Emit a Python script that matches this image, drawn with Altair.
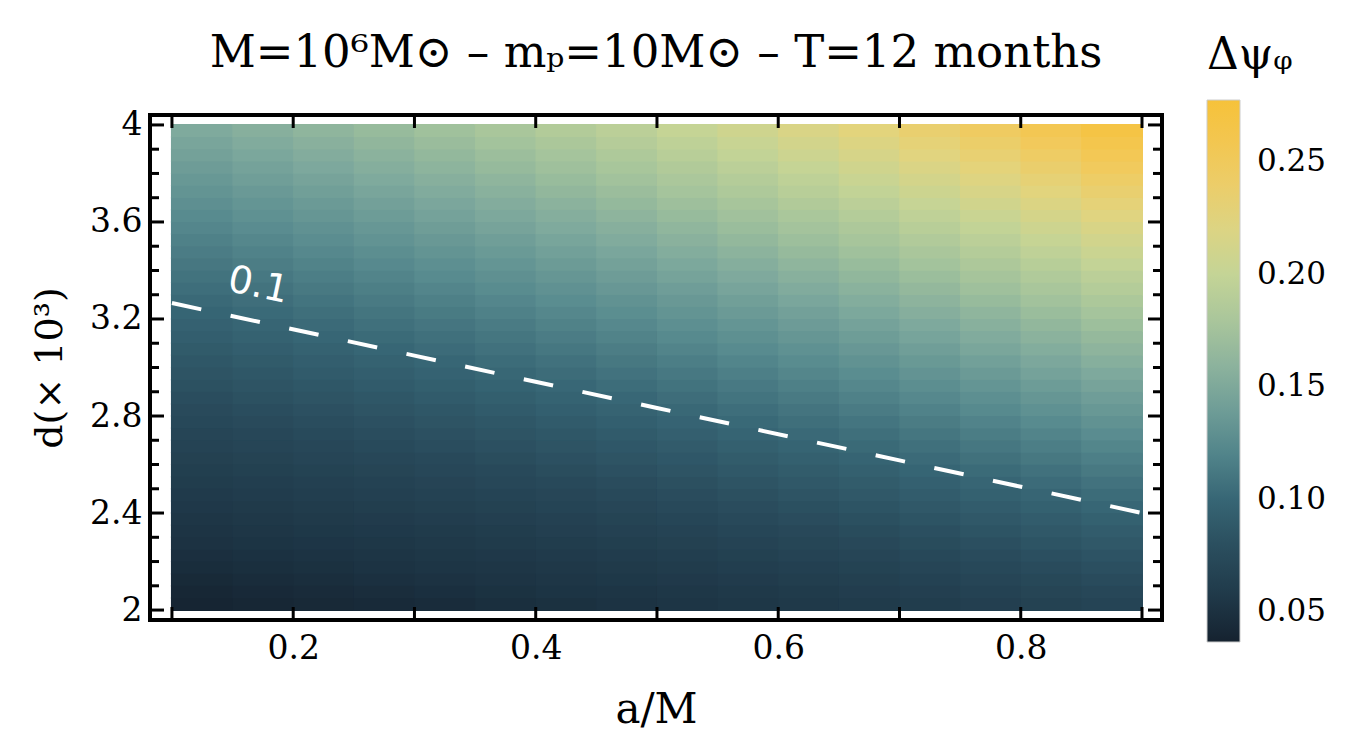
import altair as alt
import pandas as pd

# ---- data ----
a_edges = [0.10, 0.15, 0.20, 0.25, 0.30, 0.35, 0.40, 0.45, 0.50,
           0.55, 0.60, 0.65, 0.70, 0.75, 0.80, 0.85, 0.90]
d_edges = [2.00, 2.05, 2.10, 2.15, 2.20, 2.25, 2.30, 2.35, 2.40, 2.45, 2.50,
           2.55, 2.60, 2.65, 2.70, 2.75, 2.80, 2.85, 2.90, 2.95, 3.00,
           3.05, 3.10, 3.15, 3.20, 3.25, 3.30, 3.35, 3.40, 3.45, 3.50,
           3.55, 3.60, 3.65, 3.70, 3.75, 3.80, 3.85, 3.90, 3.95, 4.00]

# delta psi_phi, one row per d band (bottom to top), one value per a band
psi_rows = [
    [0.0391, 0.0404, 0.0418, 0.0433, 0.0449, 0.0465, 0.0483, 0.0501, 0.0521, 0.0542, 0.0563, 0.0587, 0.0612, 0.0638, 0.0666, 0.0696],
    [0.0410, 0.0424, 0.0439, 0.0455, 0.0471, 0.0489, 0.0507, 0.0526, 0.0547, 0.0569, 0.0592, 0.0616, 0.0642, 0.0670, 0.0699, 0.0731],
    [0.0430, 0.0445, 0.0461, 0.0477, 0.0494, 0.0513, 0.0532, 0.0552, 0.0573, 0.0596, 0.0620, 0.0646, 0.0673, 0.0703, 0.0733, 0.0766],
    [0.0451, 0.0466, 0.0483, 0.0500, 0.0518, 0.0537, 0.0557, 0.0578, 0.0601, 0.0625, 0.0650, 0.0677, 0.0705, 0.0736, 0.0768, 0.0803],
    [0.0472, 0.0488, 0.0505, 0.0523, 0.0542, 0.0562, 0.0583, 0.0605, 0.0629, 0.0654, 0.0680, 0.0708, 0.0738, 0.0770, 0.0804, 0.0840],
    [0.0493, 0.0510, 0.0528, 0.0547, 0.0567, 0.0587, 0.0609, 0.0633, 0.0657, 0.0684, 0.0711, 0.0741, 0.0772, 0.0805, 0.0841, 0.0879],
    [0.0515, 0.0533, 0.0552, 0.0571, 0.0592, 0.0614, 0.0637, 0.0661, 0.0687, 0.0714, 0.0743, 0.0773, 0.0806, 0.0841, 0.0878, 0.0918],
    [0.0538, 0.0556, 0.0576, 0.0596, 0.0617, 0.0640, 0.0664, 0.0690, 0.0716, 0.0745, 0.0775, 0.0807, 0.0841, 0.0878, 0.0916, 0.0957],
    [0.0561, 0.0580, 0.0600, 0.0621, 0.0644, 0.0667, 0.0692, 0.0719, 0.0747, 0.0777, 0.0808, 0.0841, 0.0877, 0.0915, 0.0955, 0.0998],
    [0.0584, 0.0604, 0.0625, 0.0647, 0.0671, 0.0695, 0.0721, 0.0749, 0.0778, 0.0809, 0.0842, 0.0876, 0.0914, 0.0953, 0.0995, 0.1040],
    [0.0608, 0.0629, 0.0651, 0.0674, 0.0698, 0.0724, 0.0751, 0.0779, 0.0810, 0.0842, 0.0876, 0.0912, 0.0951, 0.0992, 0.1036, 0.1082],
    [0.0632, 0.0654, 0.0677, 0.0701, 0.0726, 0.0753, 0.0781, 0.0811, 0.0842, 0.0876, 0.0911, 0.0949, 0.0989, 0.1032, 0.1077, 0.1125],
    [0.0657, 0.0679, 0.0703, 0.0728, 0.0754, 0.0782, 0.0811, 0.0842, 0.0875, 0.0910, 0.0947, 0.0986, 0.1028, 0.1072, 0.1119, 0.1170],
    [0.0682, 0.0705, 0.0730, 0.0756, 0.0783, 0.0812, 0.0843, 0.0875, 0.0909, 0.0945, 0.0983, 0.1024, 0.1067, 0.1113, 0.1162, 0.1215],
    [0.0708, 0.0732, 0.0758, 0.0785, 0.0813, 0.0843, 0.0874, 0.0908, 0.0943, 0.0981, 0.1020, 0.1062, 0.1107, 0.1155, 0.1206, 0.1260],
    [0.0734, 0.0759, 0.0786, 0.0814, 0.0843, 0.0874, 0.0907, 0.0941, 0.0978, 0.1017, 0.1058, 0.1102, 0.1148, 0.1198, 0.1251, 0.1307],
    [0.0761, 0.0787, 0.0814, 0.0843, 0.0874, 0.0906, 0.0940, 0.0976, 0.1014, 0.1054, 0.1097, 0.1142, 0.1190, 0.1242, 0.1296, 0.1355],
    [0.0788, 0.0815, 0.0843, 0.0873, 0.0905, 0.0938, 0.0973, 0.1010, 0.1050, 0.1092, 0.1136, 0.1183, 0.1233, 0.1286, 0.1343, 0.1403],
    [0.0815, 0.0844, 0.0873, 0.0904, 0.0937, 0.0971, 0.1007, 0.1046, 0.1087, 0.1130, 0.1176, 0.1224, 0.1276, 0.1331, 0.1390, 0.1452],
    [0.0844, 0.0873, 0.0903, 0.0935, 0.0969, 0.1004, 0.1042, 0.1082, 0.1124, 0.1169, 0.1216, 0.1266, 0.1320, 0.1377, 0.1438, 0.1502],
    [0.0872, 0.0902, 0.0934, 0.0967, 0.1002, 0.1039, 0.1077, 0.1119, 0.1162, 0.1208, 0.1257, 0.1309, 0.1365, 0.1424, 0.1486, 0.1553],
    [0.0901, 0.0932, 0.0965, 0.0999, 0.1035, 0.1073, 0.1113, 0.1156, 0.1201, 0.1249, 0.1299, 0.1353, 0.1410, 0.1471, 0.1536, 0.1605],
    [0.0931, 0.0963, 0.0996, 0.1032, 0.1069, 0.1108, 0.1150, 0.1194, 0.1240, 0.1290, 0.1342, 0.1397, 0.1456, 0.1519, 0.1586, 0.1658],
    [0.0961, 0.0994, 0.1029, 0.1065, 0.1103, 0.1144, 0.1187, 0.1232, 0.1280, 0.1331, 0.1385, 0.1442, 0.1503, 0.1568, 0.1637, 0.1711],
    [0.0991, 0.1025, 0.1061, 0.1099, 0.1139, 0.1180, 0.1225, 0.1271, 0.1321, 0.1373, 0.1429, 0.1488, 0.1551, 0.1618, 0.1689, 0.1765],
    [0.1022, 0.1057, 0.1094, 0.1133, 0.1174, 0.1217, 0.1263, 0.1311, 0.1362, 0.1416, 0.1474, 0.1535, 0.1600, 0.1669, 0.1742, 0.1821],
    [0.1054, 0.1090, 0.1128, 0.1168, 0.1210, 0.1255, 0.1302, 0.1352, 0.1404, 0.1460, 0.1519, 0.1582, 0.1649, 0.1720, 0.1796, 0.1877],
    [0.1086, 0.1123, 0.1162, 0.1203, 0.1247, 0.1293, 0.1341, 0.1393, 0.1447, 0.1504, 0.1565, 0.1630, 0.1699, 0.1772, 0.1850, 0.1933],
    [0.1118, 0.1157, 0.1197, 0.1239, 0.1284, 0.1331, 0.1381, 0.1434, 0.1490, 0.1549, 0.1612, 0.1678, 0.1749, 0.1825, 0.1905, 0.1991],
    [0.1151, 0.1191, 0.1232, 0.1276, 0.1322, 0.1371, 0.1422, 0.1476, 0.1534, 0.1595, 0.1659, 0.1728, 0.1801, 0.1879, 0.1961, 0.2050],
    [0.1184, 0.1225, 0.1268, 0.1313, 0.1360, 0.1410, 0.1463, 0.1519, 0.1578, 0.1641, 0.1707, 0.1778, 0.1853, 0.1933, 0.2018, 0.2109],
    [0.1218, 0.1260, 0.1304, 0.1350, 0.1399, 0.1451, 0.1505, 0.1562, 0.1623, 0.1688, 0.1756, 0.1829, 0.1906, 0.1988, 0.2076, 0.2169],
    [0.1253, 0.1296, 0.1341, 0.1388, 0.1438, 0.1491, 0.1547, 0.1606, 0.1669, 0.1735, 0.1806, 0.1880, 0.1960, 0.2044, 0.2134, 0.2231],
    [0.1287, 0.1332, 0.1378, 0.1427, 0.1478, 0.1533, 0.1590, 0.1651, 0.1715, 0.1784, 0.1856, 0.1932, 0.2014, 0.2101, 0.2194, 0.2293],
    [0.1323, 0.1368, 0.1416, 0.1466, 0.1519, 0.1575, 0.1634, 0.1696, 0.1762, 0.1832, 0.1907, 0.1985, 0.2069, 0.2159, 0.2254, 0.2355],
    [0.1358, 0.1405, 0.1454, 0.1506, 0.1560, 0.1617, 0.1678, 0.1742, 0.1810, 0.1882, 0.1958, 0.2039, 0.2125, 0.2217, 0.2315, 0.2419],
    [0.1395, 0.1442, 0.1493, 0.1546, 0.1602, 0.1661, 0.1723, 0.1789, 0.1858, 0.1932, 0.2010, 0.2093, 0.2182, 0.2276, 0.2376, 0.2483],
    [0.1431, 0.1480, 0.1532, 0.1586, 0.1644, 0.1704, 0.1768, 0.1836, 0.1907, 0.1983, 0.2063, 0.2149, 0.2239, 0.2336, 0.2439, 0.2549],
    [0.1468, 0.1519, 0.1572, 0.1628, 0.1686, 0.1749, 0.1814, 0.1883, 0.1957, 0.2034, 0.2117, 0.2204, 0.2297, 0.2397, 0.2502, 0.2615],
    [0.1506, 0.1558, 0.1612, 0.1669, 0.1730, 0.1793, 0.1861, 0.1932, 0.2007, 0.2087, 0.2171, 0.2261, 0.2356, 0.2458, 0.2566, 0.2682],
]

# dashed 0.1 contour
contour_a = [0.1, 0.3, 0.5, 0.7, 0.9]
contour_d = [3.266, 3.049, 2.833, 2.617, 2.400]
contour_label = ["0.1"]
contour_label_a = [0.171]
contour_label_d = [3.336]

# colour bar
psi_stops = [0.0367, 0.05, 0.075, 0.10, 0.125, 0.15, 0.175, 0.20, 0.225, 0.25, 0.2776]
psi_colors = ["#15222f", "#1c3343", "#28495a", "#376675", "#588b8f", "#7ea99d",
              "#a3c39c", "#c4d496", "#e2d47e", "#f2c95b", "#f6c23a"]
legend_values = [0.05, 0.10, 0.15, 0.20, 0.25]

# axes
x_label_values = [0.2, 0.4, 0.6, 0.8]
x_tick_values = [0.1, 0.2, 0.3, 0.4, 0.5, 0.6, 0.7, 0.8, 0.9]
y_label_values = [2.0, 2.4, 2.8, 3.2, 3.6, 4.0]
y_minor_values = [2.1, 2.2, 2.3, 2.5, 2.6, 2.7, 2.9, 3.0, 3.1,
                  3.3, 3.4, 3.5, 3.7, 3.8, 3.9]

# ---- tables ----
rows = []
for i, row in enumerate(psi_rows):
    for j, v in enumerate(row):
        rows.append({"a_lo": a_edges[j], "a_hi": a_edges[j + 1],
                     "d_lo": d_edges[i], "d_hi": d_edges[i + 1],
                     "psi": v, "psi_edge": v})
grid = pd.DataFrame(rows)
contour = pd.DataFrame({"a": contour_a, "d": contour_d})
label_df = pd.DataFrame({"a": contour_label_a, "d": contour_label_d, "t": contour_label})
xt = pd.DataFrame({"a": x_tick_values})
ymaj = pd.DataFrame({"d": y_label_values})
ymin = pd.DataFrame({"d": y_minor_values})

W, H = 1012, 505
FONT = "DejaVu Serif"
xs = alt.Scale(domain=[0.0819, 0.9165], nice=False, zero=False)
ys = alt.Scale(domain=[1.959, 4.041], nice=False, zero=False)
cs = alt.Scale(domain=psi_stops, range=psi_colors, interpolate="rgb")
# same colour ramp for the cell outlines (domain start nudged so Vega-Lite keeps it a separate,
# legend-less scale instead of merging it into the colour bar)
cs_edge = alt.Scale(domain=[psi_stops[0] - 0.0001] + psi_stops[1:], range=psi_colors,
                    interpolate="rgb")

x_axis = alt.Axis(values=x_label_values, format=".1f", ticks=False, domain=False, grid=False,
                  labelFont=FONT, labelFontSize=33, labelColor="black", labelPadding=12,
                  title="a/M", titleFont=FONT, titleFontSize=42, titleFontWeight="normal",
                  titleColor="black", titlePadding=24)
y_axis = alt.Axis(values=y_label_values, format=".2~f", ticks=False, domain=False, grid=False,
                  labelFont=FONT, labelFontSize=33, labelColor="black", labelPadding=8,
                  title="d(× 10³)", titleFont=FONT, titleFontSize=38, titleFontWeight="normal",
                  titleColor="black", titlePadding=20)

# outline layer underneath, so that no white seams show between cells
seams = alt.Chart(grid).mark_rect(filled=False, strokeWidth=2).encode(
    x=alt.X("a_lo:Q", scale=xs, axis=x_axis),
    x2="a_hi:Q",
    y=alt.Y("d_lo:Q", scale=ys, axis=y_axis),
    y2="d_hi:Q",
    stroke=alt.Stroke("psi_edge:Q", scale=cs_edge, legend=None),
)

heat = alt.Chart(grid).mark_rect(strokeWidth=0).encode(
    x=alt.X("a_lo:Q", scale=xs, axis=x_axis),
    x2="a_hi:Q",
    y=alt.Y("d_lo:Q", scale=ys, axis=y_axis),
    y2="d_hi:Q",
    color=alt.Color("psi:Q", scale=cs, legend=alt.Legend(
        type="gradient",
        title="Δψᵩ", orient="none", legendX=1057, legendY=-81, direction="vertical",
        gradientLength=542, gradientThickness=33, values=legend_values, format=".2f",
        labelFont=FONT, labelFontSize=31, labelColor="black", labelOffset=17,
        titleFont=FONT, titleFontSize=44, titleFontWeight="normal", titleColor="black",
        titlePadding=22, gradientStrokeColor="#cccccc", gradientStrokeWidth=1)),
)

line = alt.Chart(contour).mark_line(color="white", strokeWidth=4, strokeDash=[30, 30]).encode(
    x=alt.X("a:Q", scale=xs, axis=x_axis), y=alt.Y("d:Q", scale=ys, axis=y_axis))

lab = alt.Chart(label_df).mark_text(color="white", fontSize=38, font="DejaVu Sans", angle=12,
                                    align="center", baseline="middle").encode(
    x=alt.X("a:Q", scale=xs, axis=x_axis), y=alt.Y("d:Q", scale=ys, axis=y_axis), text="t:N")

tick_style = dict(color="black", strokeWidth=3)
bottom = alt.Chart(xt).mark_rule(**tick_style).encode(
    x=alt.X("a:Q", scale=xs, axis=x_axis), y=alt.value(H), y2=alt.value(H - 13))
top = alt.Chart(xt).mark_rule(**tick_style).encode(
    x=alt.X("a:Q", scale=xs, axis=x_axis), y=alt.value(0), y2=alt.value(13))
left_maj = alt.Chart(ymaj).mark_rule(**tick_style).encode(
    y=alt.Y("d:Q", scale=ys, axis=y_axis), x=alt.value(0), x2=alt.value(14))
left_min = alt.Chart(ymin).mark_rule(**tick_style).encode(
    y=alt.Y("d:Q", scale=ys, axis=y_axis), x=alt.value(0), x2=alt.value(9))
right_maj = alt.Chart(ymaj).mark_rule(**tick_style).encode(
    y=alt.Y("d:Q", scale=ys, axis=y_axis), x=alt.value(W), x2=alt.value(W - 14))
right_min = alt.Chart(ymin).mark_rule(**tick_style).encode(
    y=alt.Y("d:Q", scale=ys, axis=y_axis), x=alt.value(W), x2=alt.value(W - 9))

chart = alt.layer(seams, heat, line, lab, bottom, top, left_maj, left_min,
                  right_maj, right_min).properties(
    width=W, height=H,
    title=alt.TitleParams(text="M=10⁶M⊙ – mₚ=10M⊙ – T=12 months", font=FONT, fontSize=45,
                          fontWeight="normal", color="black", anchor="middle", frame="group",
                          offset=40, dy=82),
    padding={"left": 150, "top": 115, "right": 189, "bottom": 124},
    autosize=alt.AutoSizeParams(type="none"),
    background="white",
).configure_view(stroke="black", strokeWidth=4)

chart.save("out.html", embed_options={"renderer": "svg", "actions": False})
